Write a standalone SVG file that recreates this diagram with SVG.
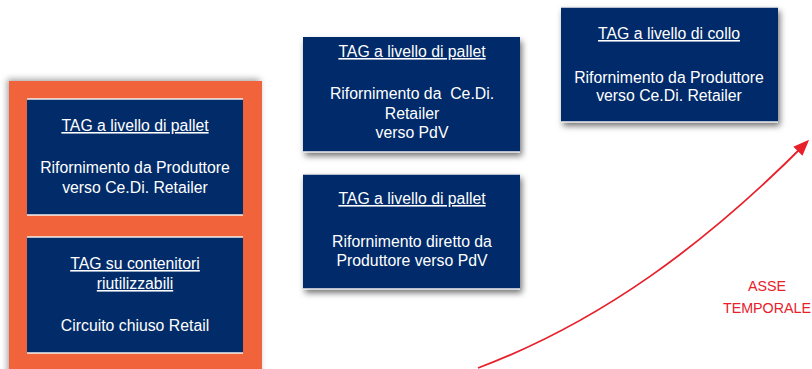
<svg xmlns="http://www.w3.org/2000/svg" width="812" height="369" viewBox="0 0 812 369">
<style>
.box{fill:#022c69}
.edge{stroke:#f2f2f2;stroke-width:1.5}
.t{font-family:"Liberation Sans",Arial,sans-serif;font-size:15.8px;fill:#ffffff;text-anchor:middle}
.u{text-decoration:underline}
.red{font-family:"Liberation Sans",Arial,sans-serif;font-size:14.3px;fill:#e8202a;text-anchor:middle}
</style>
<defs>
<filter id="sh" x="-10%" y="-10%" width="130%" height="140%">
<feDropShadow dx="2" dy="4" stdDeviation="3" flood-color="#000" flood-opacity="0.55"/>
</filter>
<filter id="sho" x="-10%" y="-10%" width="120%" height="120%">
<feDropShadow dx="-2" dy="-2" stdDeviation="3" flood-color="#000" flood-opacity="0.35"/>
</filter>
<marker id="ah" markerWidth="16" markerHeight="13" refX="13" refY="6.5" orient="auto" markerUnits="userSpaceOnUse" viewBox="0 0 16 13">
<path d="M0,0 L16,6.5 L0,13 z" fill="#e8202a"/>
</marker>
</defs>
<rect width="812" height="369" fill="#ffffff"/>
<g id="orange-panel">
<rect x="9" y="81" width="253" height="300" fill="#f1643a" filter="url(#sho)"/>
</g>
<g id="node-pallet-produttore">
<rect class="box" x="27" y="99" width="216" height="116"/>
<line class="edge" x1="27" y1="99" x2="243" y2="99"/>
<line class="edge" x1="27" y1="215" x2="243" y2="215"/>
<text class="t u" x="135" y="131">TAG a livello di pallet</text>
<text class="t" x="135" y="173">Rifornimento da Produttore</text>
<text class="t" x="135" y="193">verso Ce.Di. Retailer</text>
</g>
<g id="node-contenitori">
<rect class="box" x="27" y="237" width="216" height="116"/>
<line class="edge" x1="27" y1="237" x2="243" y2="237"/>
<line class="edge" x1="27" y1="353" x2="243" y2="353"/>
<text class="t u" x="135" y="269">TAG su contenitori</text>
<text class="t u" x="135" y="289">riutilizzabili</text>
<text class="t" x="135" y="331">Circuito chiuso Retail</text>
</g>
<g id="node-pallet-cedi">
<rect class="box" x="303" y="37" width="217" height="115" filter="url(#sh)"/>
<line class="edge" x1="303" y1="152" x2="520" y2="152"/>
<text class="t u" x="412" y="57">TAG a livello di pallet</text>
<text class="t" x="412" y="99" xml:space="preserve">Rifornimento da  Ce.Di.</text>
<text class="t" x="412" y="119">Retailer</text>
<text class="t" x="412" y="138">verso PdV</text>
</g>
<g id="node-pallet-diretto">
<rect class="box" x="303" y="174" width="217" height="115" filter="url(#sh)"/>
<line class="edge" x1="303" y1="174" x2="520" y2="174"/>
<line class="edge" x1="303" y1="289" x2="520" y2="289"/>
<text class="t u" x="412" y="204">TAG a livello di pallet</text>
<text class="t" x="412" y="247">Rifornimento diretto da</text>
<text class="t" x="412" y="266">Produttore verso PdV</text>
</g>
<g id="node-collo">
<rect class="box" x="561" y="7" width="217" height="115" filter="url(#sh)"/>
<line class="edge" x1="561" y1="7" x2="778" y2="7"/>
<line class="edge" x1="561" y1="122" x2="778" y2="122"/>
<text class="t u" x="669" y="39">TAG a livello di collo</text>
<text class="t" x="669" y="83">Rifornimento da Produttore</text>
<text class="t" x="669" y="101">verso Ce.Di. Retailer</text>
</g>
<g id="connectors">
<path d="M478,368 C600,322 705,245 807,142" fill="none" stroke="#e8202a" stroke-width="1.8" marker-end="url(#ah)"/>
</g>
<g id="label-asse">
<text class="red" x="767" y="291">ASSE</text>
<text class="red" x="767" y="313">TEMPORALE</text>
</g>
</svg>
